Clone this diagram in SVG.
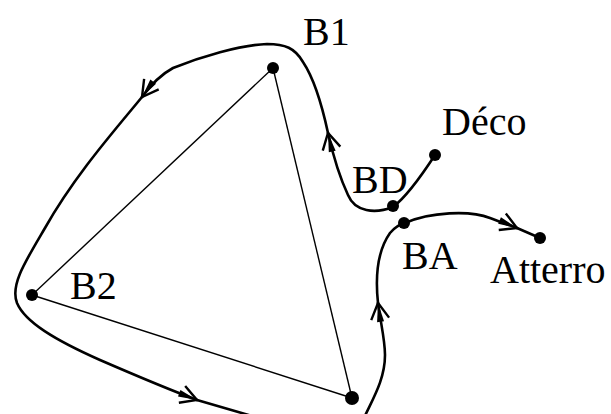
<svg xmlns="http://www.w3.org/2000/svg" width="611" height="414" viewBox="0 0 611 414">
<style>
.lbl{font-family:"Liberation Serif","Times New Roman",serif;font-size:40px;fill:#000}
.dot{fill:#000}
.tri{stroke:#000;stroke-width:1.4;fill:none}
.path{stroke:#000;stroke-width:2.6;fill:none;stroke-linecap:round}
</style>
<defs>
<marker id="arr" markerUnits="userSpaceOnUse" markerWidth="40" markerHeight="40" refX="25" refY="20" orient="auto" overflow="visible">
<path d="M9,11 L25,20 L9,29" fill="none" stroke="#000" stroke-width="2.4"/>
<path d="M6,16.5 L25,20 L6,23.5 Z" fill="#000"/>
</marker>
</defs>
<rect width="611" height="414" fill="#fff"/>
<g id="connectors">
<line class="tri" x1="273" y1="68" x2="32" y2="295"/>
<line class="tri" x1="32" y1="295" x2="352" y2="398"/>
<line class="tri" x1="273" y1="68" x2="352" y2="398"/>
<path class="path" marker-end="url(#arr)" d="M393,207 C375,214 355,212 348,195 C340,178 333,155 328,133"/>
<path class="path" marker-end="url(#arr)" d="M328,133 C322,105 315,80 303,62 C295,48 285,44 267,44 C240,45 200,57 173,68 C160,75 150,86 142,97"/>
<path class="path" marker-end="url(#arr)" d="M142,97 C115,130 75,175 45,228 C25,262 10,285 17,303 C25,322 55,340 100,360 C130,373 165,388 197,400"/>
<path class="path" d="M197,400 L252,416"/>
<path class="path" marker-end="url(#arr)" d="M364,418 C372,400 385,380 385,355 C385,340 381,325 378,303"/>
<path class="path" marker-end="url(#arr)" d="M378,303 C375,275 378,250 390,233 C396,226 400,224 405,223 C430,212 470,210 490,218 C500,222 510,225 517,228"/>
<path class="path" d="M517,228 L540,238"/>
<path class="path" d="M393,207 C405,198 420,178 435,155"/>
</g>
<g id="B1"><circle class="dot" cx="273" cy="68" r="6"/><text class="lbl" x="303" y="45">B1</text></g>
<g id="B2"><circle class="dot" cx="32" cy="295" r="6"/><text class="lbl" x="70" y="299">B2</text></g>
<g id="B3"><circle class="dot" cx="352" cy="398" r="7"/></g>
<g id="BD"><circle class="dot" cx="393" cy="206" r="6"/><text class="lbl" x="352" y="193">BD</text></g>
<g id="Deco"><circle class="dot" cx="435" cy="155" r="6"/><text class="lbl" x="442" y="135">Déco</text></g>
<g id="BA"><circle class="dot" cx="404" cy="223" r="6"/><text class="lbl" x="402" y="269">BA</text></g>
<g id="Atterro"><circle class="dot" cx="540" cy="238" r="6"/><text class="lbl" x="490" y="283">Atterro</text></g>
</svg>
